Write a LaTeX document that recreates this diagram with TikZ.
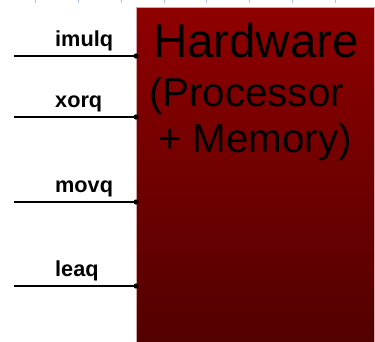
\documentclass[tikz,border=0pt]{standalone}
\usepackage{fontspec}
\setmainfont{Liberation Sans}
\begin{document}
\begin{tikzpicture}[x=1pt,y=-1pt,
  lbl/.style={anchor=base west,inner sep=0pt,font=\bfseries\fontsize{21.7}{24}\selectfont},
  hwline/.style={anchor=base,inner sep=0pt,text=black},
  wire/.style={line width=2pt,black},
  dotc/.style={fill=black},
  tick/.style={draw={rgb,255:red,170;green,195;blue,225},line width=0.8pt}]
\useasboundingbox (0,0) rectangle (375,341);
% ruler ticks
\foreach \tx in {35,78,121,164,206,249,292,335}{
  \draw[tick] (\tx,0) -- (\tx,3);
}
% hardware box
\node[anchor=north west,minimum width=238pt,minimum height=336pt,inner sep=0pt,
  top color={rgb,255:red,143;green,0;blue,0},bottom color={rgb,255:red,82;green,0;blue,0},
  draw={rgb,255:red,215;green,165;blue,165},line width=0.7pt] (hw) at (136,7) {};
\node[hwline,font=\fontsize{47.5}{50}\selectfont] (hw1) at (256,57) {Hardware};
\node[hwline,font=\fontsize{40.3}{44}\selectfont] (hw2) at (246.5,106.5) {(Processor};
\node[hwline,font=\fontsize{40.3}{44}\selectfont] (hw3) at (255,152) {+ Memory)};
% wires
\foreach \nm/\yy/\txt in {a/56/imulq,b/117/xorq,c/202/movq,d/286/leaq}{
  \coordinate (s\nm) at (14,\yy);
  \coordinate (e\nm) at (hw.west |- s\nm);
  \draw[wire] (s\nm) -- (e\nm);
  \fill[dotc] (e\nm) circle (2.6pt);
  \node[lbl] (l\nm) at (55,\yy-9.5) {\txt};
}
\end{tikzpicture}
\end{document}
